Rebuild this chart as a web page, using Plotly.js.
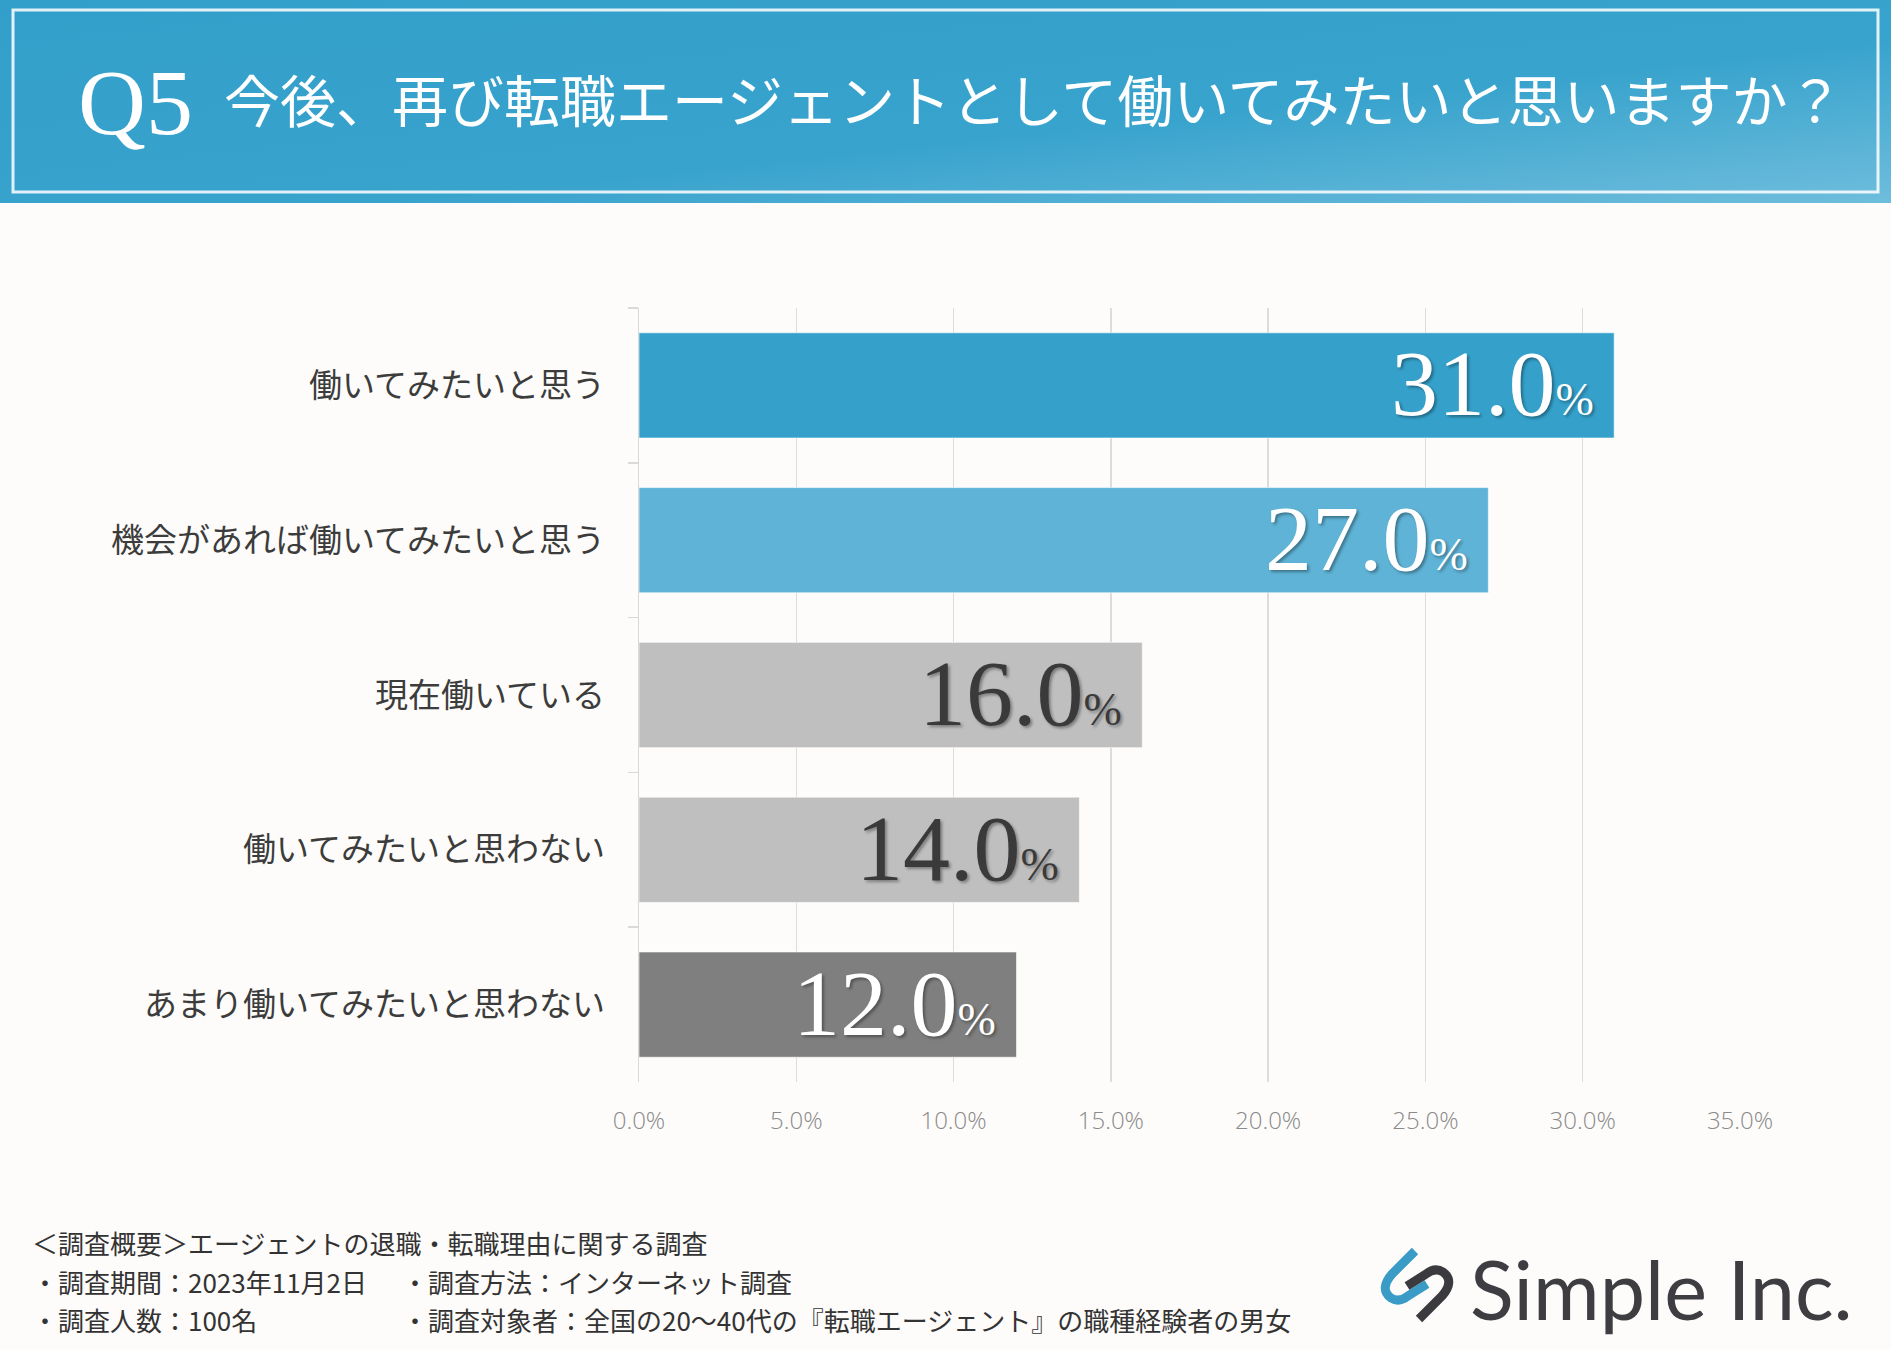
<!DOCTYPE html>
<html>
<head>
<meta charset="utf-8">
<script src="https://cdn.plot.ly/plotly-3.0.1.min.js"></script>
<style>
  html, body { margin: 0; padding: 0; background: #fdfcfa; }
  #chart { width: 1891px; height: 1350px; }
</style>
</head>
<body>
<div id="chart"></div>
<script>
// data
const categories = [
  '働いてみたいと思う',
  '機会があれば働いてみたいと思う',
  '現在働いている',
  '働いてみたいと思わない',
  'あまり働いてみたいと思わない'
];
const values = [31.0, 27.0, 16.0, 14.0, 12.0];
const tickValues = [0, 5, 10, 15, 20, 25, 30, 35];
const tickLabels = ['0.0%', '5.0%', '10.0%', '15.0%', '20.0%', '25.0%', '30.0%', '35.0%'];

const barColors = ['#35a1cb', '#5fb3d6', '#bfbfbf', '#bfbfbf', '#7f7f7f'];
const labelColors = ['#ffffff', '#ffffff', '#3a3a3a', '#3a3a3a', '#ffffff'];

const titleQ = 'Q5';
const titleText = '今後、再び転職エージェントとして働いてみたいと思いますか？';
const footerLines = [
  ['＜調査概要＞エージェントの退職・転職理由に関する調査', ''],
  ['・調査期間：2023年11月2日', '・調査方法：インターネット調査'],
  ['・調査人数：100名', '・調査対象者：全国の20～40代の『転職エージェント』の職種経験者の男女']
];

// page geometry (pixels) -> paper coords
const W = 1891, H = 1350;
const M = { l: 639, r: 151, t: 308, b: 268 };
const plotW = W - M.l - M.r;
const plotH = H - M.t - M.b;
const px = x => (x - M.l) / plotW;
const py = y => (H - M.b - y) / plotH;

const jp = '"Noto Sans CJK JP", "Noto Sans", sans-serif';
const serif = '"Liberation Serif", "DejaVu Serif", serif';

const headerSvg = '<svg xmlns="http://www.w3.org/2000/svg" width="1891" height="203" viewBox="0 0 1891 203">' +
  '<defs><linearGradient id="g" x1="0" y1="0" x2="1" y2="1">' +
  '<stop offset="0" stop-color="#329fca"/><stop offset="0.6" stop-color="#38a3cd"/>' +
  '<stop offset="1" stop-color="#6ebddc"/></linearGradient></defs>' +
  '<rect width="1891" height="203" fill="url(#g)"/></svg>';

const logoSvg = '<svg xmlns="http://www.w3.org/2000/svg" width="100" height="100" viewBox="0 0 100 100">' +
  '<path d="M45,16 L22,39 Q9,54 21,63 Q29,68 38,61 L57,49" fill="none" stroke="#3a9cc6" stroke-width="9"/>' +
  '<path d="M45,16 L22,39 Q9,54 21,63 Q29,68 38,61 L57,49" fill="none" stroke="#3b3b3f" stroke-width="9" transform="rotate(180 47 50)"/>' +
  '</svg>';

const svgUri = s => 'data:image/svg+xml;charset=utf-8,' + encodeURIComponent(s);

const trace = {
  type: 'bar',
  orientation: 'h',
  x: values,
  y: categories,
  marker: {
    color: barColors,
    line: { color: 'rgba(255,255,255,0.6)', width: 1 }
  },
  hoverinfo: 'none'
};

const valueLabels = values.map((v, i) => ({
  x: v,
  y: categories[i],
  xref: 'x',
  yref: 'y',
  xanchor: 'right',
  yanchor: 'middle',
  xshift: -18,
  yshift: 2,
  showarrow: false,
  text: v.toFixed(1) + '<span style="font-size:46px">%</span>',
  font: {
    family: serif,
    size: 94,
    color: labelColors[i],
    shadow: '2px 2px 3px rgba(0,0,0,0.35)'
  }
}));

const footerAnn = [];
const footerY = [1242, 1281, 1319];
footerLines.forEach((row, r) => {
  row.forEach((t, c) => {
    if (!t) return;
    footerAnn.push({
      xref: 'paper', yref: 'paper',
      x: px(c === 0 ? 30 : 400), y: py(footerY[r]),
      xanchor: 'left', yanchor: 'middle',
      showarrow: false,
      text: t,
      font: { family: jp, size: 26, color: '#333333' }
    });
  });
});

const layout = {
  width: W,
  height: H,
  margin: M,
  paper_bgcolor: '#fdfcfa',
  plot_bgcolor: '#fdfcfa',
  showlegend: false,
  bargap: 0.32,
  xaxis: {
    range: [0, 35],
    tickmode: 'array',
    tickvals: tickValues,
    ticktext: tickLabels,
    showgrid: true,
    gridcolor: '#dcdcdc',
    gridwidth: 1.5,
    zeroline: false,
    showline: false,
    ticks: '',
    ticklabelstandoff: 22,
    tickfont: { family: '"Open Sans", Lato, sans-serif', size: 24, weight: 300, color: '#8a8a8a' },
    fixedrange: true
  },
  yaxis: {
    autorange: 'reversed',
    showgrid: false,
    showline: true,
    linecolor: '#d9d9d9',
    linewidth: 1.5,
    ticks: 'outside',
    tickson: 'boundaries',
    ticklen: 10,
    tickcolor: '#d9d9d9',
    tickwidth: 1.5,
    ticklabelstandoff: 26,
    tickfont: { family: jp, size: 33, color: '#3c3c3c' },
    fixedrange: true
  },
  images: [
    {
      source: svgUri(headerSvg),
      xref: 'paper', yref: 'paper',
      x: px(0), y: py(0),
      sizex: W / plotW, sizey: 203 / plotH,
      xanchor: 'left', yanchor: 'top',
      sizing: 'stretch',
      layer: 'below'
    },
    {
      source: svgUri(logoSvg),
      xref: 'paper', yref: 'paper',
      x: px(1370), y: py(1235),
      sizex: 100 / plotW, sizey: 100 / plotH,
      xanchor: 'left', yanchor: 'top',
      sizing: 'stretch',
      layer: 'above'
    }
  ],
  shapes: [
    {
      type: 'rect',
      xref: 'paper', yref: 'paper',
      x0: px(13), x1: px(1878), y0: py(10), y1: py(192),
      line: { color: 'rgba(255,255,255,0.85)', width: 3 },
      fillcolor: 'rgba(0,0,0,0)'
    }
  ],
  annotations: [
    {
      xref: 'paper', yref: 'paper',
      x: px(76), y: py(102),
      xanchor: 'left', yanchor: 'middle',
      showarrow: false,
      text: titleQ,
      font: { family: serif, size: 94, color: '#ffffff' }
    },
    {
      xref: 'paper', yref: 'paper',
      x: px(222), y: py(98),
      xanchor: 'left', yanchor: 'middle',
      showarrow: false,
      text: titleText,
      font: { family: jp, size: 56, color: '#ffffff' }
    },
    {
      xref: 'paper', yref: 'paper',
      x: px(1468), y: py(1288),
      xanchor: 'left', yanchor: 'middle',
      showarrow: false,
      text: 'Simple Inc.',
      font: { family: 'Lato, "Open Sans", sans-serif', size: 81, color: '#3d3d42' }
    }
  ].concat(valueLabels, footerAnn)
};

Plotly.newPlot('chart', [trace], layout, { displayModeBar: false, staticPlot: true });
</script>
</body>
</html>
